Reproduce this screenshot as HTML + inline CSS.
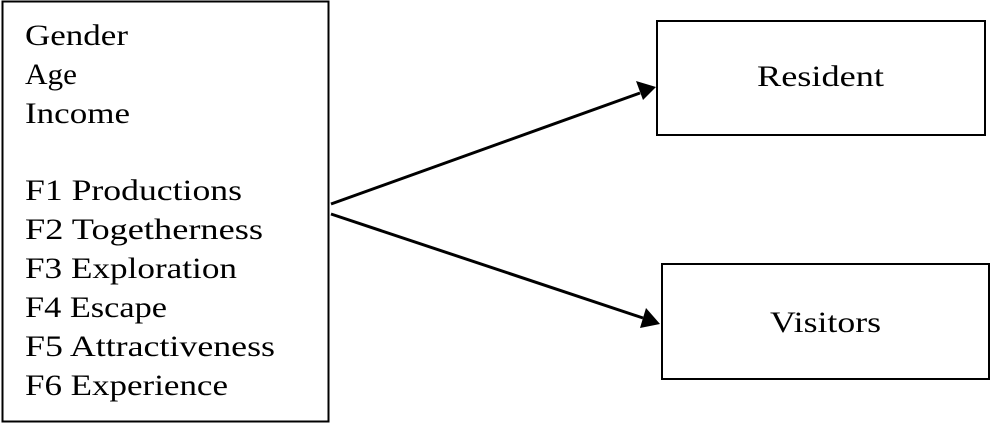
<!DOCTYPE html>
<html><head><style>html,body{margin:0;padding:0;background:#fff}svg{display:block}</style></head><body>
<svg width="991" height="424" xmlns="http://www.w3.org/2000/svg" font-family="Liberation Serif, serif" font-size="30" fill="#000">
<rect x="2.5" y="1.5" width="326" height="420" fill="none" stroke="#000" stroke-width="2"/>
<rect x="657" y="21" width="328" height="114" fill="none" stroke="#000" stroke-width="2"/>
<rect x="662" y="264" width="327" height="115" fill="none" stroke="#000" stroke-width="2"/>
<g>
<text x="25" y="45" textLength="103" lengthAdjust="spacingAndGlyphs">Gender</text>
<text x="25" y="84" textLength="52" lengthAdjust="spacingAndGlyphs">Age</text>
<text x="25" y="123" textLength="105" lengthAdjust="spacingAndGlyphs">Income</text>
<text x="25" y="200" textLength="217" lengthAdjust="spacingAndGlyphs">F1 Productions</text>
<text x="25" y="239" textLength="238" lengthAdjust="spacingAndGlyphs">F2 Togetherness</text>
<text x="25" y="278" textLength="212" lengthAdjust="spacingAndGlyphs">F3 Exploration</text>
<text x="25" y="317" textLength="142" lengthAdjust="spacingAndGlyphs">F4 Escape</text>
<text x="25" y="356" textLength="250" lengthAdjust="spacingAndGlyphs">F5 Attractiveness</text>
<text x="25" y="395" textLength="203" lengthAdjust="spacingAndGlyphs">F6 Experience</text>
<text x="757" y="86" textLength="127" lengthAdjust="spacingAndGlyphs">Resident</text>
<text x="770" y="332" textLength="111" lengthAdjust="spacingAndGlyphs">Visitors</text>
</g>
<line x1="331" y1="204" x2="640" y2="93" stroke="#000" stroke-width="3"/>
<path d="M656,87 L636,81 L643,100 Z"/>
<line x1="331" y1="214" x2="643" y2="318" stroke="#000" stroke-width="3"/>
<path d="M660,324 L646,308 L640,328 Z"/>
</svg>
</body></html>
